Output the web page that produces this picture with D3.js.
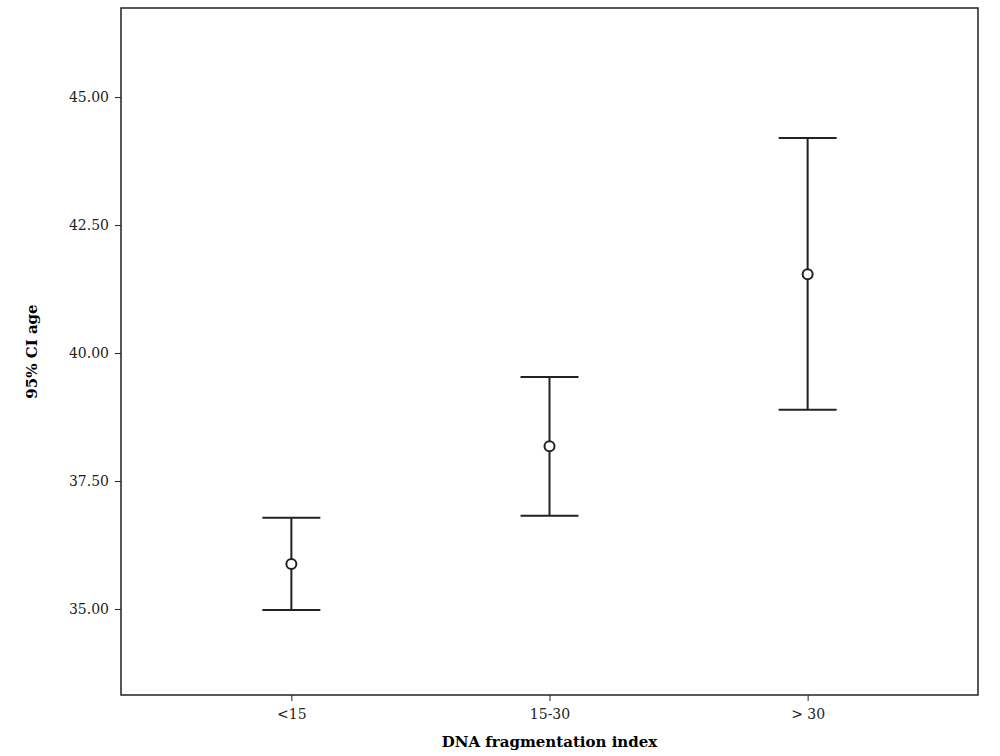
<!DOCTYPE html>
<html><head><meta charset="utf-8">
<script src="https://cdn.jsdelivr.net/npm/d3@7"></script>
<style>body{margin:0;background:#fff}</style>
</head><body>
<script>
// data
const categories = ["<15", "15-30", "> 30"];
const means = [35.88, 38.18, 41.54];
const lowers = [34.98, 36.82, 38.89];
const uppers = [36.78, 39.53, 44.2];
const yTicks = [35, 37.5, 40, 42.5, 45];

const width = 1000, height = 756;
const mLeft = 121, mRight = 978, mTop = 8, mBottom = 695;

const svg = d3.select("body").append("svg")
  .attr("width", width).attr("height", height)
  .attr("font-family", "'DejaVu Serif', 'Liberation Serif', serif");

const x = d3.scalePoint().domain(categories).range([mLeft, mRight]).padding(0.66);
const y = d3.scaleLinear().domain([33.32, 46.74]).range([mBottom, mTop]);

// frame
svg.append("rect")
  .attr("x", mLeft).attr("y", mTop)
  .attr("width", mRight - mLeft).attr("height", mBottom - mTop)
  .attr("fill", "none").attr("stroke", "#222").attr("stroke-width", 1.5);

// axes
const ya = svg.append("g").attr("transform", `translate(${mLeft},0)`)
  .call(d3.axisLeft(y).tickValues(yTicks).tickFormat(d3.format(".2f")).tickSize(6).tickPadding(6));
const xa = svg.append("g").attr("transform", `translate(0,${mBottom})`)
  .call(d3.axisBottom(x).tickSize(6).tickPadding(8));
[ya, xa].forEach(a => {
  a.select(".domain").remove();
  a.selectAll("line").attr("stroke", "#222");
  a.selectAll("text").attr("font-size", 14).attr("fill", "#222")
    .attr("font-family", "'DejaVu Serif', serif");
});

// axis titles
svg.append("text").attr("x", (mLeft + mRight) / 2).attr("y", 747)
  .attr("text-anchor", "middle").attr("font-weight", "bold").attr("font-size", 15)
  .text("DNA fragmentation index");
svg.append("text").attr("transform", `translate(37,${(mTop + mBottom) / 2}) rotate(-90)`)
  .attr("text-anchor", "middle").attr("font-weight", "bold").attr("font-size", 15)
  .text("95% CI age");

// error bars
const cap = 29;
const g = svg.append("g").attr("stroke", "#222").attr("stroke-width", 2).attr("fill", "none");
categories.forEach((c, i) => {
  const cx = x(c);
  g.append("line").attr("x1", cx).attr("x2", cx).attr("y1", y(lowers[i])).attr("y2", y(uppers[i]));
  g.append("line").attr("x1", cx - cap).attr("x2", cx + cap).attr("y1", y(lowers[i])).attr("y2", y(lowers[i]));
  g.append("line").attr("x1", cx - cap).attr("x2", cx + cap).attr("y1", y(uppers[i])).attr("y2", y(uppers[i]));
  g.append("circle").attr("cx", cx).attr("cy", y(means[i])).attr("r", 5).attr("fill", "#fff");
});
</script>
</body></html>
